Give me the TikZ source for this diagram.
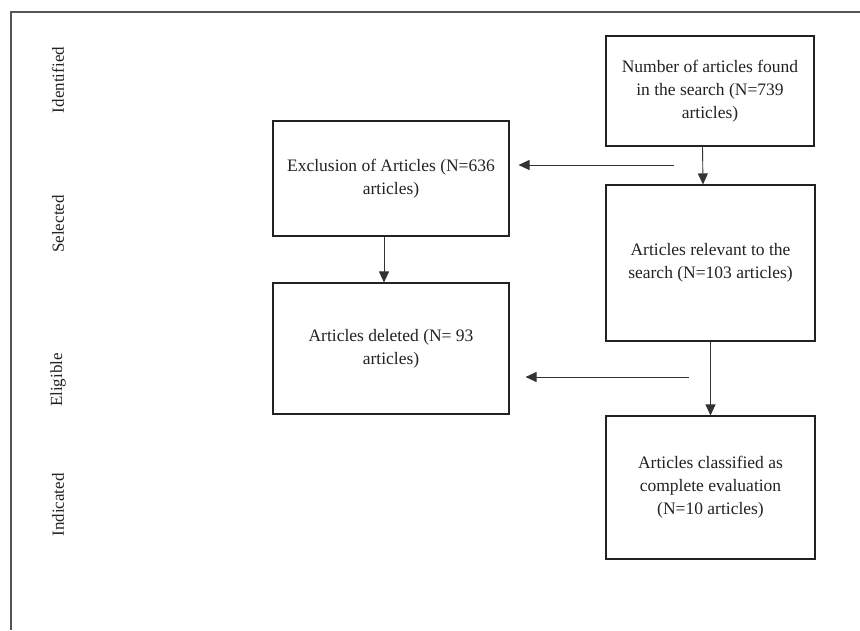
\documentclass[tikz,border=0pt]{standalone}
\usepackage{fontspec}
\setmainfont{Liberation Serif}
\usetikzlibrary{arrows.meta,calc}
\definecolor{txt}{HTML}{222222}
\definecolor{frm}{HTML}{555555}
\begin{document}
\begin{tikzpicture}[x=1pt,y=-1pt,
  flowbox/.style={draw=txt,line width=1.1pt,rectangle,align=center,text=txt,
    font=\fontsize{17.5}{23}\selectfont,inner sep=0pt},
  sidelabel/.style={rotate=90,text=txt,font=\fontsize{17}{20}\selectfont},
  conn/.style={draw=black!80,line width=0.9pt,-{Triangle[length=11pt,width=10pt]}}]
\useasboundingbox (0,0) rectangle (860,630);
\draw[frm,line width=1.4pt] (860,12) -- (11,12) -- (11,630);

\node[sidelabel] (l1) at (58,80) {Identified};
\node[sidelabel] (l2) at (58,224) {Selected};
\node[sidelabel] (l3) at (58,380) {Eligible};
\node[sidelabel] (l4) at (58,505) {Indicated};

\node[flowbox,minimum width=208,minimum height=110] (b1) at (710,91)
  {Number of articles found\\in the search (N=739\\articles)};
\node[flowbox,minimum width=236,minimum height=115] (b2) at (391,178.5)
  {Exclusion of Articles (N=636\\articles)};
\node[flowbox,minimum width=209,minimum height=156] (b3) at (710.5,263)
  {Articles relevant to the\\search (N=103 articles)};
\node[flowbox,minimum width=236,minimum height=131] (b4) at (391,348.5)
  {Articles deleted (N= 93\\articles)};
\node[flowbox,minimum width=209,minimum height=143] (b5) at (710.5,487.5)
  {Articles classified as\\complete evaluation\\(N=10 articles)};

\coordinate (c1) at (674,165);
\coordinate (c2) at (689,377);

\draw[conn] ([xshift=-7.5pt]b1.south) -- ([xshift=-7.5pt]b3.north);
\draw[conn] (c1) -- ([xshift=9pt]b2.east |- c1);
\draw[conn] ([xshift=-7pt]b2.south) -- ([xshift=-7pt]b4.north);
\draw[conn] (b3.south) -- (b5.north);
\draw[conn] (c2) -- ([xshift=16pt]b4.east |- c2);
\end{tikzpicture}
\end{document}
